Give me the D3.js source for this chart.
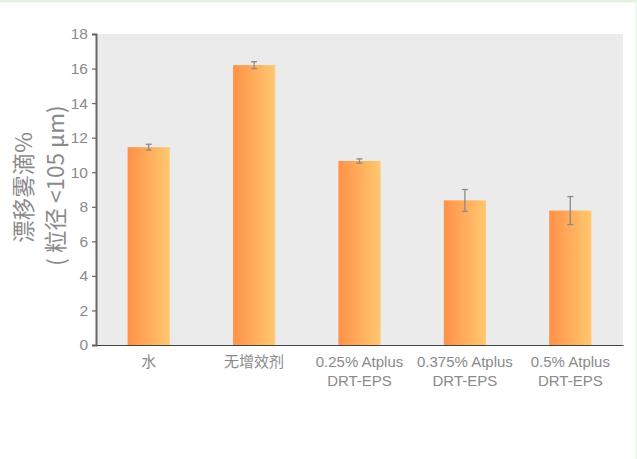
<!DOCTYPE html>
<html>
<head>
<meta charset="utf-8">
<script src="https://cdn.jsdelivr.net/npm/d3@7"></script>
<style>
  html, body { margin: 0; padding: 0; background: #fff; }
  svg { display: block; }
  text { font-family: "Noto Sans CJK SC", "Liberation Sans", Arial, sans-serif; }
</style>
</head>
<body>
<script>
// Drift droplet share (< 105 µm) per spray treatment
const categories = [["水"], ["无增效剂"], ["0.25% Atplus", "DRT-EPS"], ["0.375% Atplus", "DRT-EPS"], ["0.5% Atplus", "DRT-EPS"]];
const values = [11.45, 16.2, 10.65, 8.37, 7.78];
const errors = [0.17, 0.2, 0.12, 0.63, 0.81];
const yTicks = [0, 2, 4, 6, 8, 10, 12, 14, 16, 18];

const W = 637, H = 459;
const margin = { left: 96, right: 14, top: 34, bottom: 114 };

const svg = d3.select("body").append("svg").attr("width", W).attr("height", H);

// page frame
svg.append("rect").attr("x", 0).attr("y", 0).attr("width", W).attr("height", 2.5).attr("fill", "#e3f4e3");
svg.append("rect").attr("x", W - 1.5).attr("y", 0).attr("width", 1.5).attr("height", H).attr("fill", "#e8f6e8");

const x = d3.scaleBand()
  .domain(d3.range(categories.length))
  .range([margin.left, W - margin.right])
  .paddingInner(0.6)
  .paddingOuter(0.3);

const y = d3.scaleLinear().domain([0, 18]).range([H - margin.bottom, margin.top]);

// plot background
svg.append("rect")
  .attr("x", margin.left).attr("y", y(18))
  .attr("width", W - margin.right - margin.left)
  .attr("height", y(0) - y(18))
  .attr("fill", "#ebebeb");

const defs = svg.append("defs");
const grad = defs.append("linearGradient").attr("id", "barGrad")
  .attr("x1", "0%").attr("x2", "100%").attr("y1", "0%").attr("y2", "0%");
grad.append("stop").attr("offset", "0%").attr("stop-color", "#ff9147");
grad.append("stop").attr("offset", "100%").attr("stop-color", "#ffc870");

// bars
svg.selectAll("rect.bar").data(values).join("rect")
  .attr("class", "bar")
  .attr("x", (d, i) => x(i))
  .attr("y", d => y(d))
  .attr("width", x.bandwidth())
  .attr("height", d => y(0) - y(d))
  .attr("fill", "url(#barGrad)");

// error bars
const eb = svg.selectAll("g.err").data(values).join("g").attr("class", "err")
  .attr("stroke", "#8a8a8a").attr("stroke-width", 1.3);
eb.append("line")
  .attr("x1", (d, i) => x(i) + x.bandwidth() / 2)
  .attr("x2", (d, i) => x(i) + x.bandwidth() / 2)
  .attr("y1", (d, i) => y(d + errors[i]))
  .attr("y2", (d, i) => y(d - errors[i]));
[1, -1].forEach(s => {
  eb.append("line")
    .attr("x1", (d, i) => x(i) + x.bandwidth() / 2 - 3)
    .attr("x2", (d, i) => x(i) + x.bandwidth() / 2 + 3)
    .attr("y1", (d, i) => y(d + s * errors[i]))
    .attr("y2", (d, i) => y(d + s * errors[i]));
});

// y axis
const yAxis = svg.append("g")
  .attr("transform", `translate(${margin.left},0)`)
  .call(d3.axisLeft(y).tickValues(yTicks).tickSize(4).tickPadding(4));
yAxis.select(".domain").attr("stroke", "#666").attr("stroke-width", 2);
yAxis.selectAll(".tick line").attr("stroke", "#666").attr("stroke-width", 1.2);
yAxis.selectAll(".tick text")
  .attr("fill", "#8a8a8a").attr("font-size", 15.5)
  .style("font-family", "'Liberation Sans', Arial, sans-serif");

// x axis baseline
const xAxis = svg.append("g")
  .attr("transform", `translate(0,${y(0)})`)
  .call(d3.axisBottom(x).tickSize(0).tickFormat(""));
xAxis.select(".domain").attr("stroke", "#444").attr("stroke-width", 1.2);

// category labels
const lab = svg.append("g").selectAll("text").data(categories).join("text")
  .attr("text-anchor", "middle")
  .attr("fill", "#8a8a8a")
  .attr("font-size", 15)
  .style("font-family", "'Liberation Sans', 'Noto Sans CJK SC', Arial, sans-serif");
lab.selectAll("tspan").data((d, i) => d.map(t => ({ t, i }))).join("tspan")
  .attr("x", d => x(d.i) + x.bandwidth() / 2)
  .attr("y", (d, k) => y(0) + 22 + k * 18.5)
  .text(d => d.t);

// y axis title
const title = svg.append("text")
  .attr("transform", `translate(0,${(y(0) + y(18)) / 2 - 4}) rotate(-90)`)
  .attr("text-anchor", "middle")
  .attr("fill", "#8a8a8a")
  .attr("font-size", 22.5);
title.append("tspan").attr("x", -2).attr("y", 32).text("漂移雾滴%");
title.append("tspan").attr("x", 0).attr("y", 64).text("( 粒径 <105 µm)");
</script>
</body>
</html>
